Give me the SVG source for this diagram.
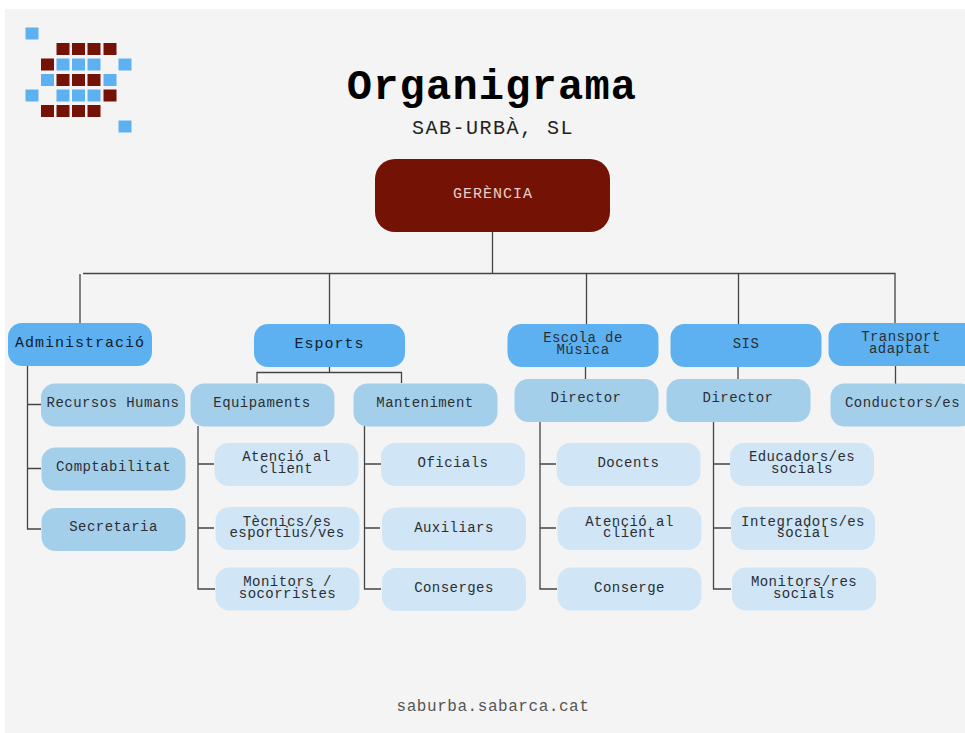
<svg xmlns="http://www.w3.org/2000/svg" width="965" height="733" viewBox="0 0 965 733">
<style>
text{font-family:"Liberation Mono","DejaVu Sans Mono",monospace;text-anchor:middle}
.t{font-size:14px;letter-spacing:.45px;fill:#2b2f33}
.h{font-size:15px;letter-spacing:1px;fill:#10202c}
.l1{fill:#5eb1f0}.l2{fill:#a4cfeb}.l3{fill:#d0e5f5}
.c{fill:none;stroke:#444;stroke-width:1.3}
.b{fill:#5eb1f0}.r{fill:#741206}
</style>
<rect width="965" height="733" fill="#fff"/>
<rect x="5" y="9" width="960" height="724" fill="#f4f4f4"/>
<g id="logo">
<rect class="b" x="25.500" y="27.500" width="13" height="12"/>
<rect class="r" x="56.500" y="43" width="13" height="12"/><rect class="r" x="72" y="43" width="13" height="12"/><rect class="r" x="87.500" y="43" width="13" height="12"/><rect class="r" x="103.500" y="43" width="13" height="12"/>
<rect class="r" x="41" y="58.500" width="13" height="12"/><rect class="b" x="56.500" y="58.500" width="13" height="12"/><rect class="b" x="72" y="58.500" width="13" height="12"/><rect class="b" x="87.500" y="58.500" width="13" height="12"/><rect class="b" x="118.500" y="58.500" width="13" height="12"/>
<rect class="b" x="41" y="74" width="13" height="12"/><rect class="r" x="56.500" y="74" width="13" height="12"/><rect class="r" x="72" y="74" width="13" height="12"/><rect class="r" x="87.500" y="74" width="13" height="12"/><rect class="b" x="103.500" y="74" width="13" height="12"/>
<rect class="b" x="25.500" y="89.500" width="13" height="12"/><rect class="b" x="56.500" y="89.500" width="13" height="12"/><rect class="b" x="72" y="89.500" width="13" height="12"/><rect class="b" x="87.500" y="89.500" width="13" height="12"/><rect class="r" x="103.500" y="89.500" width="13" height="12"/>
<rect class="r" x="41" y="105" width="13" height="12"/><rect class="r" x="56.500" y="105" width="13" height="12"/><rect class="r" x="72" y="105" width="13" height="12"/><rect class="r" x="87.500" y="105" width="13" height="12"/>
<rect class="b" x="118.500" y="120.500" width="13" height="12"/>
</g>
<text x="492" y="99" font-size="42" font-weight="bold" letter-spacing="1.2" fill="#000">Organigrama</text>
<text x="493" y="134" font-size="20" letter-spacing="1.5" fill="#222">SAB-URBÀ, SL</text>
<text x="493" y="711" font-size="16" letter-spacing=".55" fill="#555">saburba.sabarca.cat</text>
<g id="connectors" class="c">
<path class="c" d="M492.500 232V273.500M83 273.500H895V324M80 274V323M329.500 274V324M586.500 274V324M738.500 274V324"/>
<path class="c" d="M27.500 366V529H41M27.500 404.500H41M27 468.500H41"/>
<path class="c" d="M329.500 366V372.500M257 383V372.500H401.500V383"/>
<path class="c" d="M198 426V589H215M198 464H214M198 528H214"/>
<path class="c" d="M364.500 426V589H381M364.500 464H381M364.500 528H380"/>
<path class="c" d="M585.500 367V379M540 421V589H557M540 464H556M540 528H556"/>
<path class="c" d="M738 367V379M713.500 421V589H731M713.500 464H730M713.500 528H731"/>
<path class="c" d="M895.500 366V384"/>
</g>
<g id="gerencia"><rect x="375" y="159" width="235" height="73" rx="20" fill="#741206"/><text x="493" y="198" font-size="15" letter-spacing="1" fill="#e8cfc9">GERÈNCIA</text></g>
<g id="administracio"><rect class="l1" x="8" y="323" width="144" height="43" rx="14"/><text class="h" x="80" y="347">Administració</text></g>
<g id="esports"><rect class="l1" x="254" y="324" width="151" height="43" rx="14"/><text class="h" x="329.500" y="348">Esports</text></g>
<g id="escola"><rect class="l1" x="507.500" y="324" width="151" height="43" rx="14"/><text class="t" x="583" y="342">Escola de</text><text class="t" x="583" y="353.500">Música</text></g>
<g id="sis"><rect class="l1" x="670.500" y="324" width="151" height="43" rx="14"/><text class="t" x="746" y="348">SIS</text></g>
<g id="transport"><rect class="l1" x="828.500" y="323" width="150" height="43" rx="14"/><text class="t" x="901" y="341">Transport</text><text class="t" x="900" y="352.500">adaptat</text></g>
<g id="recursos"><rect class="l2" x="41" y="383.500" width="144" height="43" rx="14"/><text class="t" x="113" y="407">Recursos Humans</text></g>
<g id="comptabilitat"><rect class="l2" x="41.500" y="447.500" width="144" height="43" rx="14"/><text class="t" x="113.500" y="470.500">Comptabilitat</text></g>
<g id="secretaria"><rect class="l2" x="41.500" y="508" width="144" height="43" rx="14"/><text class="t" x="113.500" y="530.500">Secretaria</text></g>
<g id="equipaments"><rect class="l2" x="190.500" y="383.500" width="144" height="43" rx="14"/><text class="t" x="262" y="407">Equipaments</text></g>
<g id="manteniment"><rect class="l2" x="353.500" y="383.500" width="144" height="43" rx="14"/><text class="t" x="425" y="407">Manteniment</text></g>
<g id="director1"><rect class="l2" x="514.500" y="379" width="144" height="43" rx="14"/><text class="t" x="586" y="402">Director</text></g>
<g id="director2"><rect class="l2" x="666.500" y="379" width="144" height="43" rx="14"/><text class="t" x="738" y="402">Director</text></g>
<g id="conductors"><rect class="l2" x="830.500" y="383.500" width="144" height="43" rx="14"/><text class="t" x="902.500" y="407">Conductors/es</text></g>
<g id="atencio1"><rect class="l3" x="214.500" y="443" width="144" height="43" rx="14"/><text class="t" x="286.500" y="461">Atenció al</text><text class="t" x="286.500" y="472.500">client</text></g>
<g id="tecnics"><rect class="l3" x="215.500" y="507" width="144" height="43" rx="14"/><text class="t" x="287" y="525.500">Tècnics/es</text><text class="t" x="287" y="537">esportius/ves</text></g>
<g id="monitors"><rect class="l3" x="215.500" y="567.500" width="144" height="43" rx="14"/><text class="t" x="287.500" y="586">Monitors /</text><text class="t" x="287.500" y="597.500">socorristes</text></g>
<g id="oficials"><rect class="l3" x="381" y="443" width="144" height="43" rx="14"/><text class="t" x="453" y="467">Oficials</text></g>
<g id="auxiliars"><rect class="l3" x="382" y="507.500" width="144" height="43" rx="14"/><text class="t" x="454" y="531.500">Auxiliars</text></g>
<g id="conserges"><rect class="l3" x="382" y="568" width="144" height="43" rx="14"/><text class="t" x="454" y="592">Conserges</text></g>
<g id="docents"><rect class="l3" x="556.500" y="443" width="144" height="43" rx="14"/><text class="t" x="628.500" y="467">Docents</text></g>
<g id="atencio2"><rect class="l3" x="557.500" y="507" width="144" height="43" rx="14"/><text class="t" x="629.500" y="525.500">Atenció al</text><text class="t" x="629.500" y="537">client</text></g>
<g id="conserge"><rect class="l3" x="557.500" y="567.500" width="144" height="43" rx="14"/><text class="t" x="629.500" y="592">Conserge</text></g>
<g id="educadors"><rect class="l3" x="730" y="443" width="144" height="43" rx="14"/><text class="t" x="802" y="461">Educadors/es</text><text class="t" x="802" y="472.500">socials</text></g>
<g id="integradors"><rect class="l3" x="731" y="507" width="144" height="43" rx="14"/><text class="t" x="803" y="525.500">Integradors/es</text><text class="t" x="803" y="537">social</text></g>
<g id="monitorsres"><rect class="l3" x="732" y="567.500" width="144" height="43" rx="14"/><text class="t" x="804" y="586">Monitors/res</text><text class="t" x="804" y="597.500">socials</text></g>
</svg>
